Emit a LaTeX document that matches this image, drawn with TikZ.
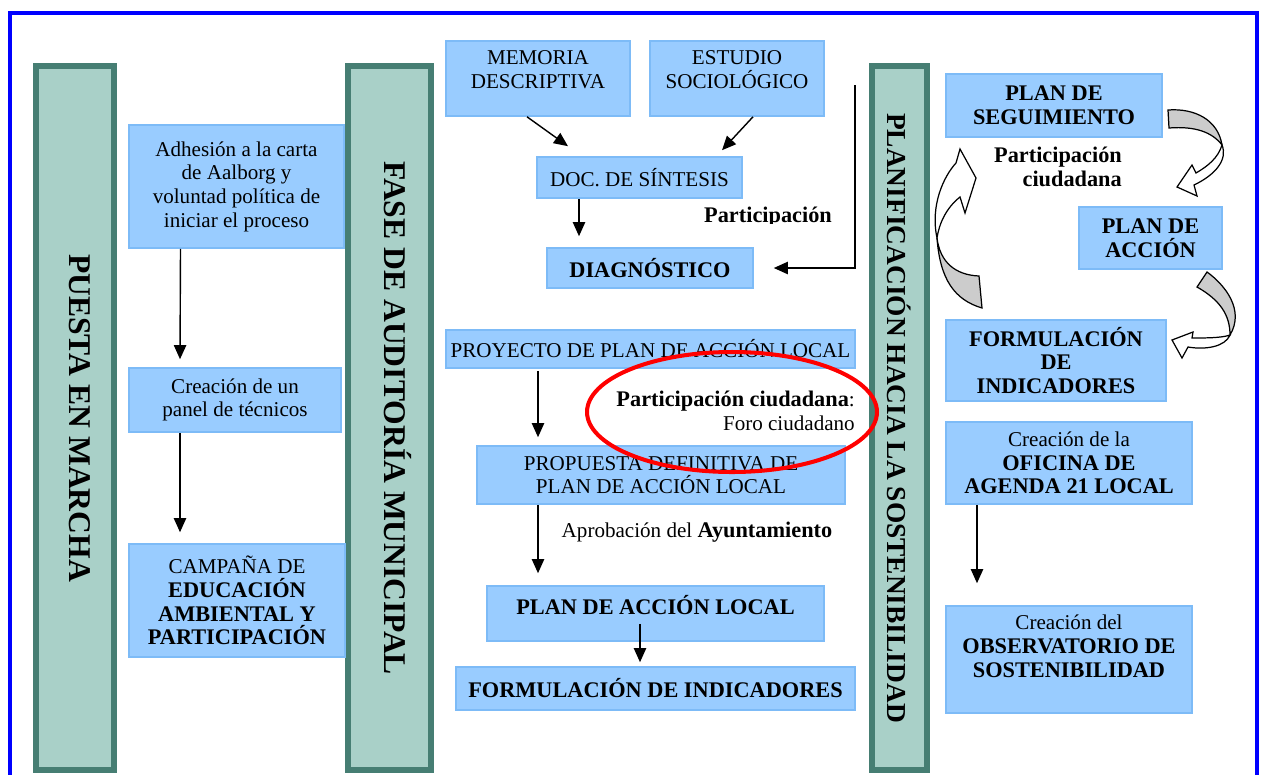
\documentclass[tikz,border=0pt]{standalone}
\usepackage{fontspec}
\setmainfont{Liberation Serif}
\usetikzlibrary{arrows.meta,calc}
\definecolor{marco}{HTML}{0000FF}
\definecolor{barfill}{HTML}{A9D0C8}
\definecolor{barline}{HTML}{467E73}
\definecolor{cajafill}{HTML}{99CCFF}
\definecolor{cajaline}{HTML}{7DBBF7}
\definecolor{cintagris}{HTML}{CCCCCC}
\newlength{\pu}\setlength{\pu}{0.02cm}
\newcommand{\nt}{\fontsize{12}{13.5}\selectfont}
\newcommand{\nb}{\fontsize{12.7}{13.5}\selectfont\bfseries}
\tikzset{
 caja/.style 2 args={draw=cajaline, line width=0.9pt, fill=cajafill, inner sep=0pt, align=center, font=\nt, minimum width=#1*\pu, minimum height=#2*\pu},
 fase/.style 2 args={draw=barline, line width=3.4pt, fill=barfill, rotate=-90, inner sep=0pt, font=\fontsize{18}{20}\selectfont\bfseries, minimum width=#1*\pu, minimum height=#2*\pu},
 arr/.style={-{Triangle[length=8pt,width=7pt]}, line width=0.8pt},
 cinta/.style={draw=black, line width=0.7pt, fill=cintagris},
 cintab/.style={draw=black, line width=0.7pt, fill=white}
}

\begin{document}
\begin{tikzpicture}[x=0.02cm, y=-0.02cm]
\useasboundingbox (0,0) rectangle (1264,774);
\draw[marco, line width=2.3pt] (10,780) -- (10,13) -- (1257,13) -- (1257,780);

\node[fase={704}{78}, text depth=6pt] (puesta) at (75,418) {PUESTA EN MARCHA};
\node[fase={704}{83}, text depth=10pt] (auditoria) at (389.5,418) {FASE DE AUDITORÍA MUNICIPAL};
\node[fase={704}{55}, font=\fontsize{15.6}{17}\selectfont\bfseries] (planificacion) at (899.5,418) {PLANIFICACIÓN HACIA LA SOSTENIBILIDAD};

\node[caja={215}{123}] (adhesion) at (236.5,186.5) {Adhesión a la carta\\de Aalborg y\\voluntad política de\\iniciar el proceso};
\node[caja={212}{64}] (panel) at (235,400) {Creación de un\\panel de técnicos};
\node[caja={216}{113}] (campana) at (237,600.5) {CAMPAÑA DE\\{\nb EDUCACIÓN}\\{\nb AMBIENTAL Y}\\{\nb PARTICIPACIÓN}};

\node[caja={184}{75}, text depth=10pt] (memoria) at (538,78.5) {MEMORIA\\DESCRIPTIVA};
\node[caja={174}{75}, text depth=10pt] (estudio) at (737,78.5) {ESTUDIO\\SOCIOLÓGICO};
\node[caja={205}{41}] (sintesis) at (639.5,177.5) {DOC. DE SÍNTESIS};
\node[caja={206}{40}, font=\nb] (diagnostico) at (650,268) {DIAGNÓSTICO};
\node[caja={409}{38}] (proyecto) at (650.5,349) {PROYECTO DE PLAN DE ACCIÓN LOCAL};
\node[caja={368}{58}] (propuesta) at (661,475) {PROPUESTA DEFINITIVA DE\\PLAN DE ACCIÓN LOCAL};
\node[caja={337}{55}, font=\nb, text depth=10pt] (plan) at (655.5,613.5) {PLAN DE ACCIÓN LOCAL};
\node[caja={399}{43}, font=\nb] (indicadores) at (655.5,688.5) {FORMULACIÓN DE INDICADORES};

\node[caja={216}{63}, font=\nb] (seguimiento) at (1054,105.5) {PLAN DE\\SEGUIMIENTO};
\node[caja={143}{62}, font=\nb] (accion) at (1150.5,238) {PLAN DE\\ACCIÓN};
\node[caja={220}{81}, font=\nb] (formulacion) at (1056,360.5) {FORMULACIÓN\\DE\\INDICADORES};
\node[caja={246}{82}] (oficina) at (1069,463) {Creación de la\\{\nb OFICINA DE}\\{\nb AGENDA 21 LOCAL}};
\node[caja={246}{107}, text depth=15pt] (observatorio) at (1069,659.5) {Creación del\\{\nb OBSERVATORIO DE}\\{\nb SOSTENIBILIDAD}};

\begin{scope}
\clip (680,195) rectangle (850,223);
\node[font=\nb, anchor=base] (participa) at (768,222) {Participación};
\end{scope}
\node[font=\nt, anchor=base] (aprobacion) at (697,537) {Aprobación del {\nb Ayuntamiento}};
\node[font=\nt, align=right, anchor=east] (foro) at (861,411) {{\nb Participación ciudadana}:\\Foro ciudadano};
\node[font=\nb, align=right, anchor=east] (ciudadana) at (1128,167) {Participación\\ciudadana};

\draw[arr] ($(adhesion.south)+(-56,0)$) -- ($(panel.north)+(-55,-8)$);
\draw[arr] ($(panel.south)+(-55,0)$) -- ($(campana.north)+(-57,-11)$);
\draw[arr] ($(memoria.south)+(-11,0)$) -- ($(sintesis.north)+(-71.5,-10)$);
\draw[arr] ($(estudio.south)+(16,0)$) -- ($(sintesis.north)+(82.5,-6)$);
\draw[arr] ($(sintesis.south)+(-60.5,0)$) -- ($(diagnostico.north)+(-71,-11)$);
\coordinate (fuente) at (855,85);
\draw[arr] (fuente) |- ($(diagnostico.east)+(20,0)$);
\draw[arr] ($(proyecto.south)+(-112.5,2)$) -- ($(propuesta.north)+(-123,-8)$);
\draw[arr] ($(propuesta.south)+(-123,0)$) -- ($(plan.north)+(-117.5,-12)$);
\draw[arr] ($(plan.south)+(-15.5,-18)$) -- ($(indicadores.north)+(-15.5,-4)$);
\draw[arr] ($(oficina.south)+(-92,0)$) -- ($(observatorio.north)+(-92,-22)$);

\filldraw[cinta] (1168,110) .. controls (1195,108) and (1218,120) .. (1222,145) .. controls (1212,132) and (1195,126) .. (1169,128) -- cycle;
\filldraw[cintab] (1222,145) .. controls (1228,160) and (1215,175) .. (1194,185) -- (1197,196) -- (1177,187) -- (1192,165) -- (1196,173) .. controls (1208,166) and (1218,158) .. (1222,145) -- cycle;
\filldraw[cinta] (1207,272) .. controls (1225,285) and (1245,310) .. (1230,335) .. controls (1230,315) and (1220,300) .. (1197,287) -- cycle;
\filldraw[cintab] (1230,335) .. controls (1225,347) and (1205,350) .. (1188,347) -- (1182,358) -- (1172,340) -- (1193,332) -- (1192,338) .. controls (1205,338) and (1222,338) .. (1230,335) -- cycle;
\filldraw[cinta] (979,276) .. controls (955,275) and (940,262) .. (937,238) .. controls (940,280) and (955,300) .. (982,308) -- cycle;
\filldraw[cintab] (937,238) .. controls (930,205) and (944,176) .. (956,163) -- (960,149) -- (976,178) -- (965,213) -- (960,197) .. controls (946,208) and (939,224) .. (937,238) -- cycle;

\draw[red, line width=2.3pt] (732,412) ellipse [x radius=2.9cm, y radius=1.2cm];
\end{tikzpicture}
\end{document}
